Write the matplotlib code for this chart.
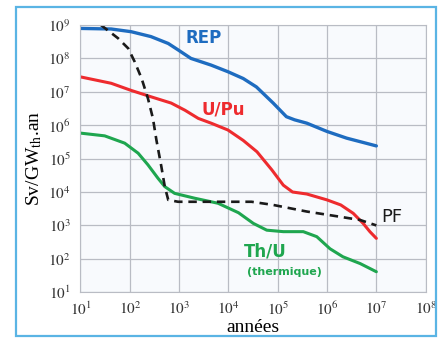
import numpy as np
import matplotlib
matplotlib.use('Agg')
import matplotlib.pyplot as plt
from matplotlib.patches import Rectangle

plt.rcParams['mathtext.fontset'] = 'stix'

#values (years, Sv/GWth.an)
rep_years = [10, 42, 107, 269, 603, 955, 1740, 4470, 9770, 2.0e4, 3.7e4,
             8.1e4, 1.5e5, 2.2e5, 3.9e5, 1.0e6, 2.5e6, 1e7]
rep_sv = [7.9e8, 7.6e8, 6.3e8, 4.5e8, 2.8e8, 1.8e8, 1.0e8, 6.3e7, 4.0e7, 2.5e7, 1.4e7,
          4.6e6, 1.8e6, 1.45e6, 1.15e6, 6.5e5, 4.1e5, 2.4e5]

upu_years = [10, 42, 107, 269, 692, 1320, 2450, 4470, 9770, 2.0e4, 3.8e4, 7.6e4,
             1.3e5, 2.0e5, 3.9e5, 1.0e6, 1.9e6, 3.4e6, 5.4e6, 7.4e6, 1e7]
upu_sv = [2.8e7, 1.8e7, 1.1e7, 7.1e6, 4.6e6, 2.8e6, 1.6e6, 1.15e6, 7.2e5, 3.5e5, 1.6e5, 4.6e4,
          1.6e4, 1.0e4, 8.7e3, 5.8e3, 4.1e3, 2.3e3, 1.15e3, 650, 410]

thu_years = [10, 31, 79, 148, 234, 372, 513, 813, 2090, 6170, 1.6e4, 3.2e4, 6.0e4,
             1.3e5, 3.3e5, 6.2e5, 1.15e6, 2.1e6, 4.7e6, 1e7]
thu_sv = [5.8e5, 4.8e5, 2.9e5, 1.45e5, 6.5e4, 2.6e4, 1.45e4, 9.1e3, 6.5e3, 4.6e3, 2.4e3,
          1.15e3, 720, 650, 650, 460, 200, 115, 72, 41]

pf_years = [26, 58, 93, 126, 174, 234, 295, 347, 437, 513, 603, 955, 2.95e4,
            8.1e4, 3.9e5, 1.9e6, 4.7e6, 1e7]
pf_sv = [1.0e9, 4.0e8, 2.0e8, 7.9e7, 2.5e7, 6.3e6, 1.6e6, 3.6e5, 5.8e4, 1.45e4, 5.8e3,
         5.1e3, 5.1e3, 4.1e3, 2.6e3, 1.8e3, 1.45e3, 1.0e3]

x_exp = [1, 2, 3, 4, 5, 6, 7, 8]
y_exp = [1, 2, 3, 4, 5, 6, 7, 8, 9]

fig = plt.figure(figsize=(4.42, 3.38), dpi=100)
ax = fig.add_axes([0.182, 0.1355, 0.781, 0.7905])
ax.set_facecolor('#f8fafd')

# light blue frame around the whole picture
fig.patches.append(Rectangle((16/442, 2/338), 420/442, 329/338, transform=fig.transFigure,
                             fill=False, edgecolor='#5ab4e4', linewidth=1.6))

ax.plot(rep_years, rep_sv, color='#1e6cc0', lw=2.4, solid_capstyle='round', solid_joinstyle='round')
ax.plot(upu_years, upu_sv, color='#ee2b2e', lw=2.2, solid_capstyle='round', solid_joinstyle='round')
ax.plot(thu_years, thu_sv, color='#1fa64f', lw=2.2, solid_capstyle='round', solid_joinstyle='round')
ax.plot(pf_years, pf_sv, color='#1a1a1a', lw=1.9, ls=(0, (3.2, 2.2)))

ax.set_xscale('log')
ax.set_yscale('log')
ax.set_xlim(1e1, 1e8)
ax.set_ylim(1e1, 1e9)
ax.set_xticks([10.0**k for k in x_exp])
ax.set_yticks([10.0**k for k in y_exp])
ax.set_xticklabels([f'$10^{{{k}}}$' for k in x_exp])
ax.set_yticklabels([f'$10^{{{k}}}$' for k in y_exp])
ax.minorticks_off()
ax.tick_params(length=0, labelsize=11, colors='#333333')
ax.tick_params(axis='x', pad=6)
ax.tick_params(axis='y', pad=7)
ax.grid(True, color='#b9bcc4', lw=0.9)
for s in ax.spines.values():
    s.set_color('#b9bcc4')

ax.set_xlabel('années', family='Liberation Serif', fontsize=14, labelpad=1)
ax.set_ylabel(r'Sv/GW$_{\mathrm{th}}$.an', family='Liberation Serif', fontsize=14, labelpad=3)

# curve labels
ax.text(10**3.49, 10**8.61, 'REP', color='#1e6cc0', fontsize=12, weight='bold',
        ha='center', va='center')
ax.text(10**3.89, 10**6.46, 'U/Pu', color='#ee2b2e', fontsize=12, weight='bold',
        ha='center', va='center')
ax.text(10**7.32, 10**3.25, 'PF', color='#1a1a1a', fontsize=13,
        ha='center', va='center')
ax.text(10**4.74, 10**2.23, 'Th/U', color='#1fa64f', fontsize=12, weight='bold',
        ha='center', va='center')
ax.text(10**5.13, 10**1.6, '(thermique)', color='#1fa64f', fontsize=8, weight='bold',
        ha='center', va='center')

fig.savefig('out.png', dpi=100)
